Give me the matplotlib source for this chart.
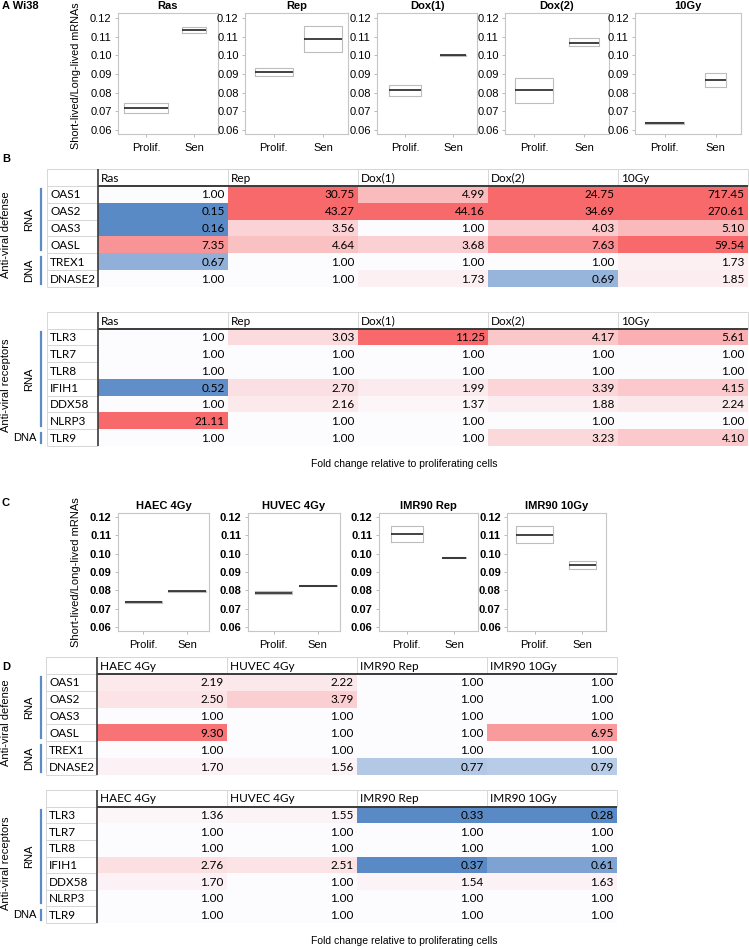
import numpy as np
import matplotlib
matplotlib.use('Agg')
import matplotlib.pyplot as plt
import matplotlib.transforms as mtransforms
from matplotlib.colors import LinearSegmentedColormap, TwoSlopeNorm

W, H = 749, 947

# ---------------- data ----------------
groups = ['Prolif.', 'Sen']

# panel A (Wi38) box stats, [Prolif, Sen]
a_titles = ['Ras', 'Rep', 'Dox(1)', 'Dox(2)', '10Gy']
a_q1 = [[0.0691, 0.1121], [0.0890, 0.1018], [0.0781, 0.0999], [0.0744, 0.1048], [0.0633, 0.0830]]
a_med = [[0.0720, 0.1137], [0.0911, 0.1089], [0.0813, 0.1000], [0.0813, 0.1069], [0.0638, 0.0868]]
a_q3 = [[0.0745, 0.1153], [0.0932, 0.1155], [0.0840, 0.1001], [0.0877, 0.1091], [0.0643, 0.0905]]

# panel C box stats
c_titles = ['HAEC 4Gy', 'HUVEC 4Gy', 'IMR90 Rep', 'IMR90 10Gy']
c_q1 = [[0.0733, 0.0790], [0.0780, 0.0822], [0.1062, 0.0976], [0.1057, 0.0917]]
c_med = [[0.0737, 0.0794], [0.0788, 0.0826], [0.1107, 0.0978], [0.1101, 0.0938]]
c_q3 = [[0.0741, 0.0798], [0.0795, 0.0830], [0.1150, 0.0980], [0.1150, 0.0960]]

defense_genes = ['OAS1', 'OAS2', 'OAS3', 'OASL', 'TREX1', 'DNASE2']
receptor_genes = ['TLR3', 'TLR7', 'TLR8', 'IFIH1', 'DDX58', 'NLRP3', 'TLR9']
defense_groups = [('RNA', 4), ('DNA', 2)]
receptor_groups = [('RNA', 6), ('DNA', 1)]

# fold change tables, rows = genes, cols = conditions
b_defense = [
    [1.00, 30.75, 4.99, 24.75, 717.45],
    [0.15, 43.27, 44.16, 34.69, 270.61],
    [0.16, 3.56, 1.00, 4.03, 5.10],
    [7.35, 4.64, 3.68, 7.63, 59.54],
    [0.67, 1.00, 1.00, 1.00, 1.73],
    [1.00, 1.00, 1.73, 0.69, 1.85],
]
b_receptors = [
    [1.00, 3.03, 11.25, 4.17, 5.61],
    [1.00, 1.00, 1.00, 1.00, 1.00],
    [1.00, 1.00, 1.00, 1.00, 1.00],
    [0.52, 2.70, 1.99, 3.39, 4.15],
    [1.00, 2.16, 1.37, 1.88, 2.24],
    [21.11, 1.00, 1.00, 1.00, 1.00],
    [1.00, 1.00, 1.00, 3.23, 4.10],
]
d_defense = [
    [2.19, 2.22, 1.00, 1.00],
    [2.50, 3.79, 1.00, 1.00],
    [1.00, 1.00, 1.00, 1.00],
    [9.30, 1.00, 1.00, 6.95],
    [1.00, 1.00, 1.00, 1.00],
    [1.70, 1.56, 0.77, 0.79],
]
d_receptors = [
    [1.36, 1.55, 0.33, 0.28],
    [1.00, 1.00, 1.00, 1.00],
    [1.00, 1.00, 1.00, 1.00],
    [2.76, 2.51, 0.37, 0.61],
    [1.70, 1.00, 1.54, 1.63],
    [1.00, 1.00, 1.00, 1.00],
    [1.00, 1.00, 1.00, 1.00],
]

# ---------------- style ----------------
plt.rcParams['font.family'] = ['Liberation Sans', 'DejaVu Sans']
TABLE_FONT = 'Lato'
TFS = 8.5
cmap = LinearSegmentedColormap.from_list('xl3', ['#5A8AC6', '#FCFCFF', '#F8696B'])
cmap.set_over('#F8696B')
cmap.set_under('#5A8AC6')
norm = TwoSlopeNorm(vmin=0.5, vcenter=1.0, vmax=10.0)
GRID = '#d6d6d6'
DARK = '#3a3a3a'
BLUE = '#5b8ac6'

fig = plt.figure(figsize=(W / 100, H / 100), dpi=100)


def px_rect(x0, y0, x1, y1):
    return [x0 / W, 1 - y1 / H, (x1 - x0) / W, (y1 - y0) / H]


def box_panel(rect, title, q1, med, q3, widths, ylim, bold):
    ax = fig.add_axes(rect)
    stats = [dict(med=m, q1=a, q3=b, whislo=a, whishi=b, label=g)
             for a, m, b, g in zip(q1, med, q3, groups)]
    ax.bxp(stats, positions=[1, 2], widths=widths, showfliers=False, showcaps=False,
           boxprops=dict(color='#bdbdbd', lw=0.8),
           medianprops=dict(color='#222222', lw=1.2),
           whiskerprops=dict(lw=0))
    ax.set_xlim(0.42, 2.5)
    ax.set_ylim(*ylim)
    ax.set_yticks([0.06, 0.07, 0.08, 0.09, 0.10, 0.11, 0.12])
    ax.yaxis.set_major_formatter(matplotlib.ticker.FormatStrFormatter('%.2f'))
    wt = 'bold' if bold else 'normal'
    ax.tick_params(length=2.5, width=0.6, color='#b0b0b0', labelsize=8, pad=2)
    ax.tick_params(axis='x', pad=4)
    for lab in ax.get_yticklabels():
        lab.set_fontweight(wt)
    for s in ax.spines.values():
        s.set_color('#c6c6c6')
        s.set_linewidth(0.8)
    ax.set_title(title, fontsize=8, fontweight='bold', pad=3)
    return ax


def draw_table(x0, y_top, y_bot, genes, conds, vals, group_label, row_groups):
    vals = np.array(vals)
    nr, nc = vals.shape
    gw = 51 / 130
    x1 = x0 + 51 + 130 * nc
    ax = fig.add_axes(px_rect(x0, y_top, x1, y_bot))
    ax.set_xlim(-gw, nc)
    ax.set_ylim(nr, -1)
    ax.axis('off')
    ax.pcolormesh(np.arange(nc + 1), np.arange(nr + 1), vals, cmap=cmap, norm=norm)
    for i in range(nr):
        ax.text(-gw + 0.025, i + 0.54, genes[i], ha='left', va='center',
                fontsize=TFS, family=TABLE_FONT)
        for j in range(nc):
            ax.text(j + 0.975, i + 0.54, f'{vals[i, j]:.2f}', ha='right', va='center',
                    fontsize=TFS, family=TABLE_FONT)
    for j, c in enumerate(conds):
        ax.text(j + 0.02, -0.46, c, ha='left', va='center', fontsize=TFS, family=TABLE_FONT)
    ax.hlines(np.arange(-1, nr + 1), -gw, 0, color=GRID, lw=0.7, clip_on=False)
    ax.hlines(-1, -gw, nc, color=GRID, lw=0.7, clip_on=False)
    ax.vlines(-gw, -1, nr, color=GRID, lw=0.7, clip_on=False)
    ax.vlines(np.arange(1, nc + 1), -1, 0, color=GRID, lw=0.7, clip_on=False)
    ax.hlines(0, 0, nc, color=DARK, lw=1.4, clip_on=False)
    ax.vlines(0, -1, nr, color=DARK, lw=1.2, clip_on=False)

    tr = mtransforms.blended_transform_factory(fig.transFigure, ax.transData)
    ax.text(6 / W, nr / 2 - 0.1, group_label, rotation=90, ha='center', va='center',
            fontsize=8, transform=tr)
    start = 0
    for name, n in row_groups:
        ax.plot([41 / W, 41 / W], [start + 0.2, start + n - 0.2], color=BLUE, lw=1.6,
                transform=tr, clip_on=False)
        if n > 1:
            ax.text(29 / W, start + n / 2, name, rotation=90, ha='center', va='center',
                    fontsize=8, transform=tr)
        else:
            ax.text(36 / W, start + n / 2, name, ha='right', va='center',
                    fontsize=8, transform=tr)
        start += n
    return ax


# ---------------- panel A ----------------
a_left = [118, 245, 377, 505, 635]
a_right = [218, 348, 477, 609, 741]
a_widths = [[0.92, 0.48], [0.77, 0.77], [0.67, 0.56], [0.76, 0.6], [0.75, 0.4]]
for k in range(5):
    box_panel(px_rect(a_left[k], 13, a_right[k], 134), a_titles[k], a_q1[k], a_med[k],
              a_q3[k], a_widths[k], (0.0579, 0.1227), False)
fig.text(76 / W, 1 - 76 / H, 'Short-lived/Long-lived mRNAs', rotation=90, ha='center',
         va='center', fontsize=7.8)
fig.text(2 / W, 1 - 6 / H, 'A Wi38', fontsize=8, fontweight='bold', va='center')

# ---------------- panel B ----------------
fig.text(2 / W, 1 - 159 / H, 'B', fontsize=8, fontweight='bold', va='center')
draw_table(47, 169, 287, defense_genes, a_titles, b_defense, 'Anti-viral defense', defense_groups)
draw_table(47, 312, 446, receptor_genes, a_titles, b_receptors, 'Anti-viral receptors', receptor_groups)
fig.text(404 / W, 1 - 464 / H, 'Fold change relative to proliferating cells', ha='center',
         va='center', fontsize=7.5)

# ---------------- panel C ----------------
fig.text(2 / W, 1 - 503 / H, 'C', fontsize=8, fontweight='bold', va='center')
c_left = [118, 248, 379, 507]
c_right = [209, 340, 478, 606]
c_widths = [[0.85, 0.87], [0.84, 0.86], [0.67, 0.5], [0.78, 0.57]]
for k in range(4):
    box_panel(px_rect(c_left[k], 513, c_right[k], 631), c_titles[k], c_q1[k], c_med[k],
              c_q3[k], c_widths[k], (0.0578, 0.1222), True)
fig.text(76 / W, 1 - 572 / H, 'Short-lived/Long-lived mRNAs', rotation=90, ha='center',
         va='center', fontsize=8)

# ---------------- panel D ----------------
fig.text(2 / W, 1 - 667 / H, 'D', fontsize=8, fontweight='bold', va='center')
draw_table(46, 657, 775, defense_genes, c_titles, d_defense, 'Anti-viral defense', defense_groups)
draw_table(46, 790, 923, receptor_genes, c_titles, d_receptors, 'Anti-viral receptors', receptor_groups)
fig.text(404 / W, 1 - 941 / H, 'Fold change relative to proliferating cells', ha='center',
         va='center', fontsize=7.5)

fig.savefig('out.png', dpi=100)
